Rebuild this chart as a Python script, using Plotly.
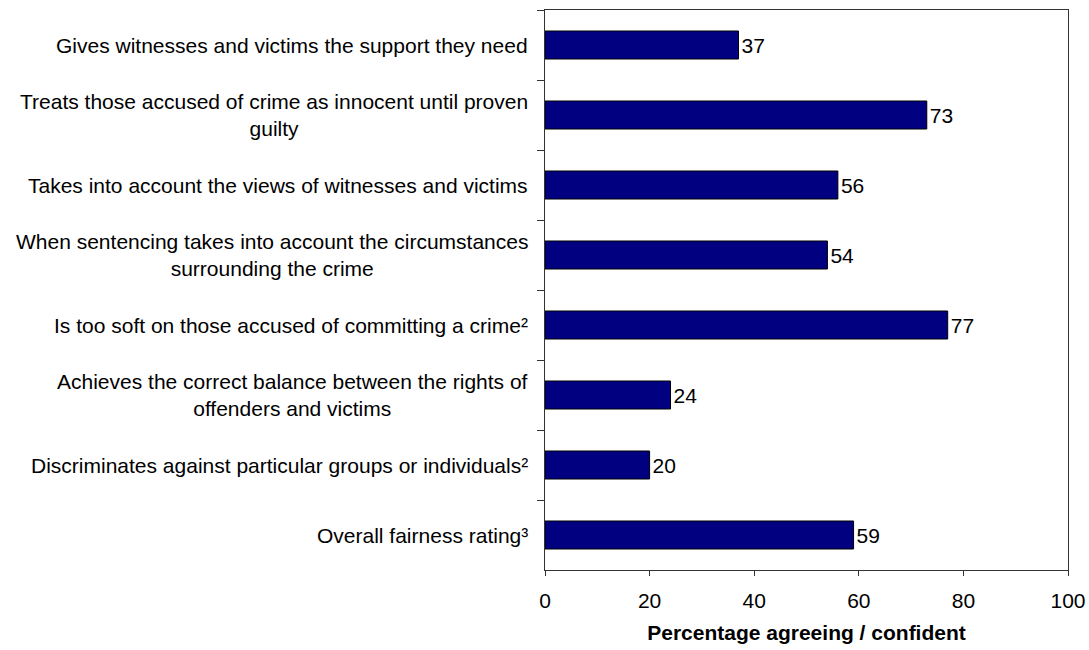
import plotly.graph_objects as go

categories = [
    "Gives witnesses and victims the support they need",
    "Treats those accused of crime as innocent until proven<br>guilty",
    "Takes into account the views of witnesses and victims",
    "When sentencing takes into account the circumstances<br>surrounding the crime",
    "Is too soft on those accused of committing a crime²",
    "Achieves the correct balance between the rights of<br>offenders and victims",
    "Discriminates against particular groups or individuals²",
    "Overall fairness rating³",
]
values = [37, 73, 56, 54, 77, 24, 20, 59]
x_ticks = [0, 20, 40, 60, 80, 100]
x_title = "Percentage agreeing / confident"

FONT = "Liberation Sans, Arial, sans-serif"
FS = 21

fig = go.Figure()
fig.add_trace(go.Bar(
    x=values,
    y=categories,
    orientation="h",
    marker=dict(color="#000080", line=dict(color="#000000", width=1)),
    text=[str(v) for v in values],
    textposition="outside",
    textfont=dict(family=FONT, size=FS, color="#000000"),
    cliponaxis=False,
    width=0.4,
))

for c in categories:
    fig.add_annotation(
        x=0, xref="paper", y=c, yref="y",
        text=c, showarrow=False,
        xanchor="right", yanchor="middle", align="center",
        xshift=-15,
        font=dict(family=FONT, size=FS, color="#000000"),
    )

fig.update_layout(
    width=1089, height=650,
    margin=dict(l=545, r=21, t=10, b=80),
    paper_bgcolor="white", plot_bgcolor="white",
    showlegend=False,
    font=dict(family=FONT, size=FS, color="#000000"),
)
fig.update_xaxes(
    range=[0, 100], tickvals=x_ticks, ticktext=[str(t) for t in x_ticks],
    showgrid=False, zeroline=False, automargin=False,
    showline=True, linecolor="#333333", linewidth=1, mirror=True,
    ticks="outside", ticklen=5, tickcolor="#333333",
    ticklabelstandoff=7,
    tickfont=dict(family=FONT, size=FS, color="#000000"),
    title=dict(text="<b>" + x_title + "</b>", font=dict(family=FONT, size=FS, color="#000000"), standoff=14),
)
fig.update_yaxes(
    type="category", categoryorder="array", categoryarray=categories,
    autorange="reversed", showticklabels=False, automargin=False,
    showgrid=False, zeroline=False,
    showline=True, linecolor="#333333", linewidth=1, mirror=True,
    ticks="outside", ticklen=7, tickcolor="#333333", tickson="boundaries",
)

fig.write_html("out.html")
